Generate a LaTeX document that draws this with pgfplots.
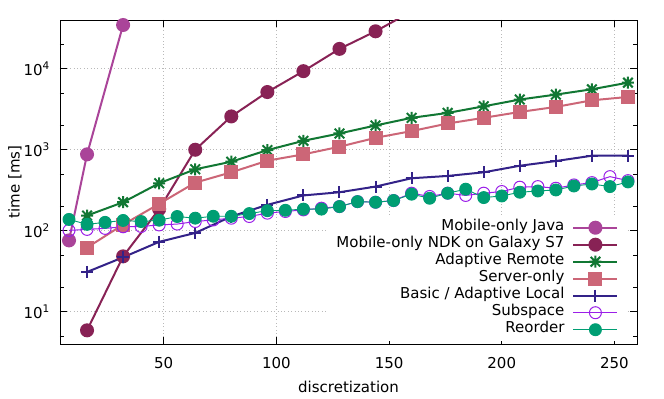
\documentclass[border=0pt]{standalone}
\usepackage{fontspec}
\setmainfont{DejaVu Sans}
\usepackage{pgfplots}
\pgfplotsset{compat=1.18}
\definecolor{cjava}{HTML}{AA4499}
\definecolor{cndk}{HTML}{882255}
\definecolor{cremote}{HTML}{117733}
\definecolor{cserver}{HTML}{CC6677}
\definecolor{clocal}{HTML}{332288}
\definecolor{csub}{HTML}{9B1FE8}
\definecolor{creorder}{HTML}{009E73}

% gnuplot style asterisk: plus and cross together
\pgfdeclareplotmark{gpstar}{%
  \pgfpathmoveto{\pgfqpoint{-\pgfplotmarksize}{0pt}}%
  \pgfpathlineto{\pgfqpoint{\pgfplotmarksize}{0pt}}%
  \pgfpathmoveto{\pgfqpoint{0pt}{-\pgfplotmarksize}}%
  \pgfpathlineto{\pgfqpoint{0pt}{\pgfplotmarksize}}%
  \pgfpathmoveto{\pgfqpoint{-0.8\pgfplotmarksize}{-0.8\pgfplotmarksize}}%
  \pgfpathlineto{\pgfqpoint{0.8\pgfplotmarksize}{0.8\pgfplotmarksize}}%
  \pgfpathmoveto{\pgfqpoint{-0.8\pgfplotmarksize}{0.8\pgfplotmarksize}}%
  \pgfpathlineto{\pgfqpoint{0.8\pgfplotmarksize}{-0.8\pgfplotmarksize}}%
  \pgfusepathqstroke}

\begin{document}
\fontsize{15bp}{17bp}\selectfont
\begin{tikzpicture}
\path[use as bounding box] (-60bp,-55bp) rectangle (604bp,344bp);
\begin{axis}[
  at={(0,0)}, anchor=south west,
  scale only axis, width=577bp, height=324bp,
  ymode=log,
  xmin=4, xmax=260, ymin=4, ymax=40000,
  xtick={50,100,150,200,250},
  xticklabels={50,100,150,200,250},
  ytick={10,100,1000,10000},
  yticklabels={10\textsuperscript{1},10\textsuperscript{2},10\textsuperscript{3},10\textsuperscript{4}},
  minor ytick={5,20,50,200,500,2000,5000,20000},
  grid=major,
  major grid style={dash pattern=on 0.8bp off 2.6bp, gray!55, line width=0.7bp},
  tick align=inside,
  major tick length=7bp, minor tick length=4bp,
  tick style={black, line width=0.8bp},
  axis line style={black, line width=0.9bp},
  xticklabel style={anchor=base, yshift=-24bp, inner sep=0pt},
  yticklabel style={anchor=east, xshift=-10bp, inner sep=0pt},
  xlabel={discretization},
  ylabel={time [ms]},
  xlabel style={at={(axis description cs:0.5,0)}, anchor=center, yshift=-43bp},
  ylabel style={at={(axis description cs:0,0.5)}, anchor=center, yshift=45bp},
  legend plot pos=right,
  legend cell align=right,
  legend style={at={(0.982,0.395)}, anchor=north east, draw=none, fill=white,
    inner xsep=8bp, inner ysep=3bp, row sep=0bp,
    nodes={inner sep=0pt, text height=11.5bp, text depth=5.5bp},
    /tikz/column 1/.style={column sep=8bp}},
  legend image code/.code={\draw[mark repeat=2,mark phase=2] plot coordinates {(0bp,0bp) (22bp,0bp) (44bp,0bp)};},
]
\addplot[cjava, line width=2bp, mark=*, mark size=6bp, mark options={fill=cjava}]
  coordinates {(8,76) (16,878) (32,34700)};
\addlegendentry{Mobile-only Java}
\addplot[cndk, line width=2bp, mark=*, mark size=6bp, mark options={fill=cndk}]
  coordinates {(16,5.9) (32,48.3) (48,185) (64,1000) (80,2580) (96,5160) (112,9340) (128,17600) (144,29000) (160,51000)};
\addlegendentry{Mobile-only NDK on Galaxy S7}
\addplot[cremote, line width=2bp, mark=gpstar, mark size=6bp]
  coordinates {(16,154) (32,225) (48,386) (64,574) (80,712) (96,990) (112,1290) (128,1590) (144,1995) (160,2480) (176,2850) (192,3440) (208,4170) (224,4800) (240,5580) (256,6740)};
\addlegendentry{Adaptive Remote}
\addplot[cserver, line width=2bp, mark=square*, mark size=6bp, mark options={fill=cserver}]
  coordinates {(16,62) (32,119) (48,215) (64,393) (80,527) (96,733) (112,878) (128,1090) (144,1405) (160,1700) (176,2110) (192,2480) (208,2930) (224,3380) (240,4080) (256,4490)};
\addlegendentry{Server-only}
\addplot[clocal, line width=2bp, mark=+, mark size=6bp]
  coordinates {(16,31) (32,47) (48,73) (64,94) (80,150) (96,209) (112,273) (128,299) (144,351) (160,445) (176,475) (192,527) (208,635) (224,726) (240,844) (256,844)};
\addlegendentry{Basic / Adaptive Local}
\addplot[csub, line width=1bp, mark=o, mark size=6bp]
  coordinates {(8,101) (16,104) (24,107) (32,112) (40,113) (48,118) (56,121) (64,130) (72,136) (80,143) (88,150)
   (96,165) (104,173) (112,181) (120,190) (128,199) (136,229) (144,225) (152,236) (160,291) (168,265) (176,291)
   (184,273) (192,291) (200,305) (208,345) (216,351) (224,335) (232,368) (240,393) (248,466) (256,416)};
\addlegendentry{Subspace}
\addplot[creorder, line width=0.9bp, mark=*, mark size=6bp, mark options={fill=creorder}]
  coordinates {(8,138) (16,120) (24,127) (32,134) (40,130) (48,135) (56,150) (64,143) (72,151) (80,151) (88,163)
   (96,177) (104,179) (112,185) (120,185) (128,199) (136,229) (144,225) (152,236) (160,283) (168,252) (176,291)
   (184,326) (192,257) (200,269) (208,299) (216,310) (224,319) (232,357) (240,378) (248,351) (256,401)};
\addlegendentry{Reorder}
\end{axis}
\end{tikzpicture}
\end{document}
